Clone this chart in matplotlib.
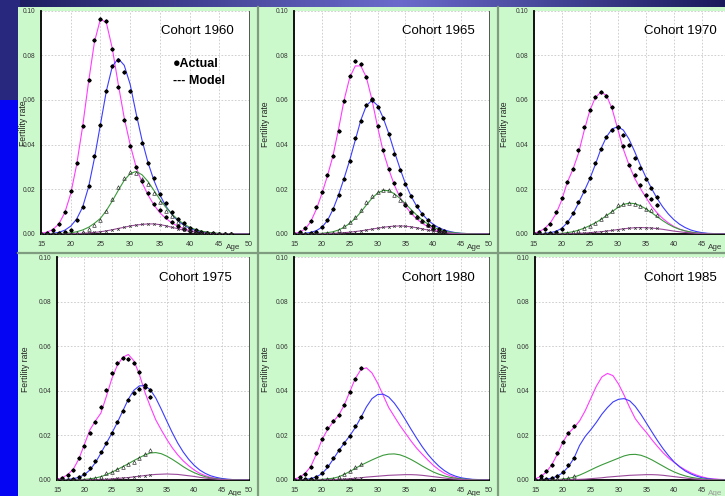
import numpy as np
import matplotlib
matplotlib.use("Agg")
import matplotlib.pyplot as plt
from matplotlib.patches import Rectangle

plt.rcParams['font.family'] = ['Liberation Sans', 'DejaVu Sans']

# ---------------------------------------------------------------------------
# Age-specific fertility rates by birth order (1st, 2nd, 3rd, 4th+)
# Model curves: ages 15..50; observed rates: ages 15..last observed age
# ---------------------------------------------------------------------------
model_ages = list(range(15, 51))
x_ticks = [15, 20, 25, 30, 35, 40, 45, 50]
y_ticks = [0.00, 0.02, 0.04, 0.06, 0.08, 0.10]
cohorts = ["1960", "1965", "1970", "1975", "1980", "1985"]

m1960_p1 = [0.0003, 0.0008, 0.002, 0.0045, 0.0095, 0.018, 0.031, 0.048, 0.068, 0.086,
            0.0962, 0.0945, 0.083, 0.067, 0.052, 0.040, 0.030, 0.023, 0.0175, 0.013,
            0.0095, 0.007, 0.005, 0.0035, 0.0024, 0.0016, 0.001, 0.0006, 0.0004, 0.0002,
            0.0001, 0.00005, 0.00003, 0.00002, 0.00001, 0.0]
m1960_p2 = [0.0, 0.0001, 0.0003, 0.0007, 0.0017, 0.0035, 0.0067, 0.012, 0.021, 0.034,
            0.049, 0.064, 0.075, 0.0785, 0.0755, 0.067, 0.054, 0.042, 0.032, 0.024,
            0.0175, 0.0125, 0.0088, 0.006, 0.004, 0.0026, 0.0016, 0.001, 0.0006, 0.0003,
            0.00015, 0.0001, 0.00005, 0.00003, 0.00001, 0.0]
m1960_p3 = [0.0, 0.0, 0.0001, 0.0002, 0.0003, 0.0005, 0.001, 0.0018, 0.003, 0.0048,
            0.007, 0.0105, 0.0148, 0.0195, 0.024, 0.027, 0.028, 0.0265, 0.0235, 0.0195,
            0.0155, 0.012, 0.009, 0.0065, 0.0045, 0.003, 0.002, 0.0013, 0.0008, 0.0005,
            0.0003, 0.0002, 0.0001, 0.00005, 0.00002, 0.0]
m1960_p4 = [0.0, 0.0, 0.0, 0.0, 0.00005, 0.0001, 0.0002, 0.0003, 0.0005, 0.0007,
            0.001, 0.0014, 0.0019, 0.0025, 0.003, 0.0036, 0.004, 0.0043, 0.0045, 0.0045,
            0.0042, 0.0037, 0.003, 0.0024, 0.0017, 0.0012, 0.0008, 0.0005, 0.0003, 0.0002,
            0.0001, 0.00005, 0.0, 0.0, 0.0, 0.0]

o1960_p1 = [0.0, 0.0004, 0.0019, 0.0043, 0.010, 0.0192, 0.0317, 0.0484, 0.0689, 0.0869,
            0.0961, 0.0952, 0.0829, 0.0657, 0.051, 0.0395, 0.030, 0.0235, 0.0185, 0.0135,
            0.0108, 0.0078, 0.0055, 0.0038, 0.0024, 0.0015, 0.0009, 0.0005, 0.0003, 0.0002,
            0.0001, 0.0001, 0.0]
o1960_p2 = [0.0, 0.0, 0.0001, 0.0003, 0.0008, 0.0019, 0.0064, 0.012, 0.0213, 0.0347,
            0.0489, 0.064, 0.075, 0.0778, 0.0727, 0.064, 0.052, 0.0407, 0.0317, 0.025,
            0.0179, 0.0137, 0.010, 0.0069, 0.0048, 0.0028, 0.0018, 0.001, 0.0006, 0.0003,
            0.0002, 0.0001, 0.0]
o1960_p3 = [0.0, 0.0, 0.0, 0.0, 0.0001, 0.0002, 0.0005, 0.001, 0.0024, 0.0042,
            0.0064, 0.0104, 0.0156, 0.0209, 0.0249, 0.0279, 0.0273, 0.0247, 0.0224, 0.0183,
            0.0142, 0.0104, 0.0079, 0.0052, 0.0037, 0.0022, 0.0014, 0.0008, 0.0005, 0.0003,
            0.0002, 0.0001, 0.0]
o1960_p4 = [0.0, 0.0, 0.0, 0.0, 0.0, 0.0001, 0.0002, 0.0003, 0.0004, 0.0007,
            0.001, 0.0013, 0.0018, 0.0024, 0.003, 0.0035, 0.0039, 0.0043, 0.0045, 0.0044,
            0.0041, 0.0036, 0.003, 0.0023, 0.0017, 0.0012, 0.0008, 0.0005, 0.0003, 0.0002,
            0.0001, 0.0, 0.0]

m1965_p1 = [0.0002, 0.0008, 0.0022, 0.0055, 0.011, 0.018, 0.026, 0.035, 0.047, 0.060,
            0.070, 0.0752, 0.0752, 0.070, 0.060, 0.048, 0.037, 0.029, 0.022, 0.0165,
            0.0125, 0.0093, 0.0068, 0.0048, 0.0033, 0.0022, 0.0014, 0.0009, 0.0005, 0.0003,
            0.00015, 0.0001, 0.00005, 0.00002, 0.00001, 0.0]
m1965_p2 = [0.0, 0.0001, 0.0003, 0.0007, 0.0015, 0.003, 0.006, 0.011, 0.0175, 0.025,
            0.033, 0.042, 0.051, 0.0575, 0.0598, 0.0575, 0.052, 0.045, 0.037, 0.0295,
            0.0225, 0.017, 0.0125, 0.009, 0.0063, 0.0043, 0.0028, 0.0018, 0.0011, 0.0006,
            0.0003, 0.0002, 0.0001, 0.00005, 0.00002, 0.0]
m1965_p3 = [0.0, 0.0, 0.0001, 0.0001, 0.0002, 0.0003, 0.0006, 0.001, 0.0018, 0.003,
            0.0048, 0.007, 0.0098, 0.013, 0.016, 0.0183, 0.0195, 0.0194, 0.018, 0.016,
            0.0135, 0.011, 0.0085, 0.0063, 0.0045, 0.0031, 0.0021, 0.0013, 0.0008, 0.0005,
            0.0003, 0.0002, 0.0001, 0.00005, 0.0, 0.0]
m1965_p4 = [0.0, 0.0, 0.0, 0.0, 0.00005, 0.0001, 0.0002, 0.0003, 0.0004, 0.0006,
            0.0008, 0.0011, 0.0014, 0.0018, 0.0022, 0.0026, 0.003, 0.0033, 0.0035, 0.0036,
            0.0035, 0.0032, 0.0028, 0.0023, 0.0018, 0.0013, 0.0009, 0.0006, 0.0004, 0.0002,
            0.0001, 0.00005, 0.0, 0.0, 0.0, 0.0]

o1965_p1 = [0.0, 0.0009, 0.0025, 0.006, 0.012, 0.0188, 0.0265, 0.0347, 0.0463, 0.0596,
            0.0705, 0.0772, 0.0759, 0.0702, 0.0605, 0.0481, 0.0377, 0.029, 0.0228, 0.018,
            0.0128, 0.0097, 0.0076, 0.0057, 0.004, 0.0024, 0.0015, 0.0008]
o1965_p2 = [0.0, 0.0, 0.0002, 0.0004, 0.001, 0.003, 0.0064, 0.0112, 0.0174, 0.0246,
            0.0328, 0.0429, 0.0507, 0.0577, 0.0598, 0.0568, 0.052, 0.0447, 0.0359, 0.0286,
            0.0225, 0.0168, 0.0124, 0.009, 0.0064, 0.0037, 0.0022, 0.0015]
o1965_p3 = [0.0, 0.0, 0.0, 0.0001, 0.0001, 0.0002, 0.0003, 0.0006, 0.0018, 0.0034,
            0.0054, 0.0076, 0.0106, 0.0142, 0.0168, 0.0186, 0.0197, 0.0195, 0.0176, 0.0153,
            0.0139, 0.010, 0.0077, 0.006, 0.004, 0.0025, 0.0015, 0.0008]
o1965_p4 = [0.0, 0.0, 0.0, 0.0, 0.0, 0.0001, 0.0001, 0.0002, 0.0004, 0.0005,
            0.0008, 0.0011, 0.0014, 0.0018, 0.0022, 0.0026, 0.003, 0.0033, 0.0035, 0.0035,
            0.0034, 0.0031, 0.0028, 0.0024, 0.0019, 0.0014, 0.001, 0.0007]

m1970_p1 = [0.0003, 0.001, 0.0025, 0.005, 0.009, 0.015, 0.023, 0.0288, 0.036, 0.046,
            0.055, 0.061, 0.0635, 0.062, 0.056, 0.047, 0.038, 0.031, 0.025, 0.0205,
            0.0165, 0.0125, 0.0095, 0.007, 0.005, 0.0034, 0.0022, 0.0014, 0.0008, 0.0005,
            0.0003, 0.0002, 0.0001, 0.00005, 0.00002, 0.0]
m1970_p2 = [0.0, 0.0001, 0.0003, 0.0006, 0.0012, 0.0025, 0.005, 0.0088, 0.0138, 0.019,
            0.0245, 0.031, 0.038, 0.0435, 0.047, 0.048, 0.0465, 0.0425, 0.037, 0.031,
            0.0255, 0.0205, 0.016, 0.0122, 0.009, 0.0064, 0.0044, 0.0029, 0.0018, 0.0011,
            0.0006, 0.0003, 0.0002, 0.0001, 0.00005, 0.0]
m1970_p3 = [0.0, 0.0, 0.0001, 0.0001, 0.0002, 0.0003, 0.0006, 0.001, 0.0017, 0.0026,
            0.0037, 0.005, 0.0065, 0.0082, 0.010, 0.0118, 0.0132, 0.0138, 0.0136, 0.0127,
            0.0113, 0.0096, 0.0078, 0.006, 0.0044, 0.0031, 0.0021, 0.0014, 0.0009, 0.0005,
            0.0003, 0.0002, 0.0001, 0.00005, 0.0, 0.0]
m1970_p4 = [0.0, 0.0, 0.0, 0.0, 0.00005, 0.0001, 0.0001, 0.0002, 0.0003, 0.0004,
            0.0006, 0.0008, 0.001, 0.0013, 0.0016, 0.002, 0.0023, 0.0026, 0.0028, 0.0029,
            0.0028, 0.0027, 0.0024, 0.0021, 0.0017, 0.0013, 0.001, 0.0007, 0.0005, 0.0003,
            0.0002, 0.0001, 0.00005, 0.0, 0.0, 0.0]

o1970_p1 = [0.0, 0.0009, 0.0022, 0.0045, 0.0097, 0.0161, 0.0231, 0.029, 0.0376, 0.048,
            0.0556, 0.0615, 0.0636, 0.0618, 0.0566, 0.048, 0.0395, 0.031, 0.0265, 0.022,
            0.0175, 0.0158, 0.0128]
o1970_p2 = [0.0, 0.0, 0.0002, 0.0005, 0.001, 0.0021, 0.0052, 0.0092, 0.0142, 0.0194,
            0.0249, 0.0319, 0.0382, 0.0432, 0.0466, 0.0477, 0.0444, 0.0398, 0.0338, 0.0295,
            0.0245, 0.0206, 0.0165]
o1970_p3 = [0.0, 0.0, 0.0, 0.0001, 0.0001, 0.0002, 0.0004, 0.0008, 0.0015, 0.0025,
            0.0037, 0.005, 0.0066, 0.0085, 0.0105, 0.0128, 0.0136, 0.0137, 0.0136, 0.0127,
            0.011, 0.0106, 0.0085]
o1970_p4 = [0.0, 0.0, 0.0, 0.0, 0.0, 0.0001, 0.0001, 0.0002, 0.0003, 0.0004,
            0.0006, 0.0008, 0.001, 0.0013, 0.0016, 0.002, 0.0023, 0.0026, 0.0027, 0.0028,
            0.0028, 0.0028, 0.0027]

m1975_p1 = [0.0003, 0.001, 0.0025, 0.005, 0.0095, 0.016, 0.0225, 0.0265, 0.030, 0.0375,
            0.0455, 0.0515, 0.055, 0.0563, 0.0535, 0.0475, 0.0395, 0.033, 0.027, 0.0225,
            0.0183, 0.0145, 0.0113, 0.0086, 0.0064, 0.0045, 0.003, 0.002, 0.0012, 0.0007,
            0.0004, 0.0002, 0.0001, 0.00005, 0.00002, 0.0]
m1975_p2 = [0.0, 0.0001, 0.0003, 0.0006, 0.0012, 0.0024, 0.0045, 0.0078, 0.012, 0.0165,
            0.021, 0.0258, 0.031, 0.0362, 0.0402, 0.0422, 0.0423, 0.0405, 0.0368, 0.0318,
            0.0265, 0.0213, 0.0166, 0.0126, 0.0093, 0.0066, 0.0045, 0.003, 0.0019, 0.0012,
            0.0007, 0.0004, 0.0002, 0.0001, 0.00005, 0.0]
m1975_p3 = [0.0, 0.0, 0.0001, 0.0001, 0.0002, 0.0003, 0.0005, 0.0009, 0.0015, 0.0024,
            0.0035, 0.0047, 0.006, 0.0073, 0.0087, 0.010, 0.0112, 0.0121, 0.0123, 0.0118,
            0.0107, 0.0093, 0.0077, 0.006, 0.0045, 0.0033, 0.0023, 0.0015, 0.0009, 0.0006,
            0.0003, 0.0002, 0.0001, 0.00005, 0.0, 0.0]
m1975_p4 = [0.0, 0.0, 0.0, 0.0, 0.0, 0.00005, 0.0001, 0.0001, 0.0002, 0.0003,
            0.0005, 0.0007, 0.0009, 0.0011, 0.0014, 0.0017, 0.002, 0.0023, 0.0025, 0.0026,
            0.0027, 0.0026, 0.0025, 0.0022, 0.0019, 0.0016, 0.0012, 0.0009, 0.0006, 0.0004,
            0.0002, 0.0001, 0.00005, 0.0, 0.0, 0.0]

o1975_p1 = [0.0, 0.0009, 0.0022, 0.0045, 0.0097, 0.0154, 0.0209, 0.026, 0.0328, 0.0402,
            0.0478, 0.0526, 0.0545, 0.0542, 0.0523, 0.0486, 0.0425, 0.0405]
o1975_p2 = [0.0, 0.0, 0.0002, 0.0005, 0.0012, 0.0025, 0.0052, 0.0085, 0.0124, 0.0164,
            0.0212, 0.026, 0.031, 0.0358, 0.0392, 0.0407, 0.0415, 0.0374]
o1975_p3 = [0.0, 0.0, 0.0, 0.0001, 0.0001, 0.0002, 0.0004, 0.0007, 0.0012, 0.003,
            0.0036, 0.0048, 0.0058, 0.007, 0.0082, 0.0098, 0.0116, 0.0136]
o1975_p4 = [0.0, 0.0, 0.0, 0.0, 0.0, 0.0001, 0.0001, 0.0002, 0.0003, 0.0004,
            0.0005, 0.0007, 0.0009, 0.0011, 0.0014, 0.0016, 0.0019, 0.0022]

m1980_p1 = [0.0003, 0.0012, 0.003, 0.006, 0.0115, 0.018, 0.0225, 0.026, 0.029, 0.0335,
            0.0395, 0.0455, 0.0495, 0.0503, 0.048, 0.0435, 0.038, 0.0325, 0.0285, 0.0245,
            0.021, 0.0175, 0.0143, 0.0116, 0.009, 0.0066, 0.0046, 0.003, 0.0019, 0.0011,
            0.0006, 0.0003, 0.0002, 0.0001, 0.00005, 0.0]
m1980_p2 = [0.0, 0.0001, 0.0003, 0.0006, 0.0014, 0.0028, 0.0055, 0.0092, 0.013, 0.0165,
            0.0198, 0.0235, 0.028, 0.0328, 0.0365, 0.0383, 0.0385, 0.0372, 0.0345, 0.031,
            0.027, 0.0228, 0.0188, 0.015, 0.0116, 0.0087, 0.0062, 0.0042, 0.0027, 0.0017,
            0.001, 0.0006, 0.0003, 0.0002, 0.0001, 0.0]
m1980_p3 = [0.0, 0.0, 0.0, 0.0001, 0.0002, 0.0003, 0.0005, 0.0008, 0.0014, 0.0025,
            0.0038, 0.0052, 0.0066, 0.0078, 0.009, 0.0101, 0.0111, 0.0116, 0.0117, 0.0113,
            0.0104, 0.0092, 0.0078, 0.0063, 0.0049, 0.0036, 0.0026, 0.0018, 0.0012, 0.0008,
            0.0005, 0.0003, 0.0002, 0.0001, 0.0, 0.0]
m1980_p4 = [0.0, 0.0, 0.0, 0.0, 0.0, 0.0001, 0.0001, 0.0002, 0.0003, 0.0004,
            0.0006, 0.0008, 0.001, 0.0013, 0.0015, 0.0017, 0.0019, 0.0021, 0.0022, 0.0023,
            0.0024, 0.0024, 0.0023, 0.0021, 0.0018, 0.0015, 0.0012, 0.0009, 0.0006, 0.0004,
            0.0002, 0.0001, 0.00005, 0.0, 0.0, 0.0]

o1980_p1 = [0.0, 0.0012, 0.0028, 0.006, 0.0121, 0.0186, 0.0235, 0.0264, 0.029, 0.0335,
            0.0395, 0.0455, 0.0504]
o1980_p2 = [0.0, 0.0002, 0.0004, 0.0005, 0.0015, 0.003, 0.0061, 0.0097, 0.0134, 0.0165,
            0.0197, 0.024, 0.0282]
o1980_p3 = [0.0, 0.0, 0.0, 0.0001, 0.0001, 0.0002, 0.0004, 0.0006, 0.0012, 0.0027,
            0.0039, 0.0057, 0.0072]
o1980_p4 = [0.0, 0.0, 0.0, 0.0, 0.0, 0.0001, 0.0001, 0.0002, 0.0003, 0.0004,
            0.0006, 0.0007, 0.0009]

m1985_p1 = [0.0005, 0.0015, 0.0035, 0.0068, 0.0115, 0.017, 0.021, 0.0235, 0.0265, 0.031,
            0.0365, 0.042, 0.0462, 0.0478, 0.0468, 0.043, 0.038, 0.0325, 0.0275, 0.0242,
            0.0213, 0.018, 0.015, 0.0122, 0.0098, 0.0079, 0.006, 0.0045, 0.0032, 0.0022,
            0.0014, 0.0008, 0.0005, 0.0003, 0.0002, 0.0001]
m1985_p2 = [0.0001, 0.0002, 0.0004, 0.0008, 0.0017, 0.0033, 0.006, 0.0098, 0.0155, 0.0195,
            0.0225, 0.0258, 0.0295, 0.0325, 0.035, 0.0362, 0.0365, 0.0355, 0.033, 0.0295,
            0.0255, 0.0215, 0.0176, 0.014, 0.0108, 0.008, 0.0058, 0.004, 0.0027, 0.0017,
            0.001, 0.0006, 0.0003, 0.0002, 0.0001, 0.0]
m1985_p3 = [0.0, 0.0, 0.0, 0.0001, 0.0002, 0.0004, 0.0007, 0.0013, 0.0022, 0.0033,
            0.0045, 0.0057, 0.0068, 0.0078, 0.0088, 0.0098, 0.0108, 0.0114, 0.0115, 0.0111,
            0.0102, 0.009, 0.0076, 0.0062, 0.0048, 0.0036, 0.0026, 0.0018, 0.0012, 0.0008,
            0.0005, 0.0003, 0.0002, 0.0001, 0.0, 0.0]
m1985_p4 = [0.0, 0.0, 0.0, 0.0, 0.0, 0.0001, 0.0001, 0.0002, 0.0003, 0.0004,
            0.0006, 0.0008, 0.001, 0.0013, 0.0015, 0.0017, 0.0019, 0.0021, 0.0022, 0.0023,
            0.0024, 0.0024, 0.0023, 0.0021, 0.0018, 0.0015, 0.0012, 0.0009, 0.0006, 0.0004,
            0.0002, 0.0001, 0.00005, 0.0, 0.0, 0.0]

o1985_p1 = [0.0, 0.0019, 0.0042, 0.0067, 0.0122, 0.017, 0.0212, 0.0241]
o1985_p2 = [0.0, 0.0004, 0.0004, 0.0009, 0.0019, 0.0036, 0.0066, 0.010]
o1985_p3 = [0.0, 0.0, 0.0001, 0.0002, 0.0003, 0.0005, 0.0008, 0.0016]
o1985_p4 = [0.0, 0.0, 0.0, 0.0, 0.0, 0.0001, 0.0001, 0.0002]

model_sets = {
    "1960": [m1960_p1, m1960_p2, m1960_p3, m1960_p4],
    "1965": [m1965_p1, m1965_p2, m1965_p3, m1965_p4],
    "1970": [m1970_p1, m1970_p2, m1970_p3, m1970_p4],
    "1975": [m1975_p1, m1975_p2, m1975_p3, m1975_p4],
    "1980": [m1980_p1, m1980_p2, m1980_p3, m1980_p4],
    "1985": [m1985_p1, m1985_p2, m1985_p3, m1985_p4],
}
obs_sets = {
    "1960": [o1960_p1, o1960_p2, o1960_p3, o1960_p4],
    "1965": [o1965_p1, o1965_p2, o1965_p3, o1965_p4],
    "1970": [o1970_p1, o1970_p2, o1970_p3, o1970_p4],
    "1975": [o1975_p1, o1975_p2, o1975_p3, o1975_p4],
    "1980": [o1980_p1, o1980_p2, o1980_p3, o1980_p4],
    "1985": [o1985_p1, o1985_p2, o1985_p3, o1985_p4],
}

line_colors = ["#ff3cff", "#3c3cff", "#3a9a3a", "#9a4a9a"]

# ---------------------------------------------------------------------------
W, H = 725, 496
fig = plt.figure(figsize=(W / 100, H / 100), dpi=100)


def fbox(x0, y0, x1, y1):
    return [x0 / W, 1 - y1 / H, (x1 - x0) / W, (y1 - y0) / H]


def fx(x):
    return x / W


def fy(y):
    return 1 - y / H


# slide background
bg = fig.add_axes([0, 0, 1, 1], zorder=-10)
bg.set_axis_off()
img = np.zeros((H, W, 3))
img[:, :] = [0.14, 0.14, 0.45]
t = np.linspace(0, 1, W)
top_col = np.where(t < 0.55, t / 0.55, (1 - t) / 0.45)
for k, (lo, hi) in enumerate([(0.10, 0.42), (0.10, 0.42), (0.36, 0.80)]):
    img[:8, :, k] = lo + (hi - lo) * top_col[None, :]
img[100:, :, :] = [0.02, 0.02, 0.96]
img[:100, :20, :] = [0.16, 0.16, 0.50]
bg.imshow(img, extent=[0, 1, 0, 1], aspect='auto', interpolation='bilinear')

# green panel and separators
bg.add_patch(Rectangle((fx(18), 0), 1 - fx(18), fy(7), transform=bg.transAxes,
                       facecolor="#cbf9cb", edgecolor="none"))
for xs in (258, 498):
    bg.plot([fx(xs), fx(xs)], [0, fy(7)], color="#809c80", lw=1.6,
            transform=bg.transAxes)
bg.plot([fx(18), 1], [fy(253), fy(253)], color="#809c80", lw=1.6,
        transform=bg.transAxes)
bg.set_xlim(0, 1)
bg.set_ylim(0, 1)

boxes = [(41, 10.5, 249, 234), (294, 10.5, 489, 234), (533.5, 10.5, 730, 234),
         (57, 257, 249, 480), (294, 257, 489, 480), (535, 257, 730, 480)]
title_pos = [(234, 31), (475, 31), (717, 31), (232, 278), (475, 278), (717, 278)]
ylab_pos = [(24, 123), (265, 124), (505, 124), (25, 369), (265, 369), (505, 369)]

for i, c in enumerate(cohorts):
    ax = fig.add_axes(fbox(*boxes[i]))
    ax.set_facecolor("white")
    ax.set_xlim(15, 50)
    ax.set_ylim(0, 0.10)
    ax.set_xticks(x_ticks)
    ax.set_yticks(y_ticks)
    ax.set_yticklabels([f"{v:.2f}" for v in y_ticks], fontsize=4.7, color="#333333")
    ax.set_xticklabels([str(v) for v in x_ticks], fontsize=5.2, color="#333333")
    ax.tick_params(axis="both", length=0)
    ax.tick_params(axis="y", pad=4)
    ax.tick_params(axis="x", pad=5)
    ax.grid(True, color="#c8c8c8", linestyle=(0, (2, 2)), linewidth=0.6)
    ax.set_axisbelow(True)
    for s in ("left", "bottom"):
        ax.spines[s].set_color("black")
        ax.spines[s].set_linewidth(1.3)
    ax.spines["right"].set_color("#555555")
    ax.spines["right"].set_linewidth(0.7)
    ax.spines["top"].set_visible(False)

    for k in range(4):
        ax.plot(model_ages, model_sets[c][k], color=line_colors[k], lw=0.8, zorder=3)

    obs = obs_sets[c]
    oa = list(range(15, 15 + len(obs[0])))
    for k in (0, 1):
        ax.plot(oa, obs[k], ls="none", marker="o", ms=1.9, color="black", zorder=4)
        ax.plot(oa, obs[k], ls="none", marker="+", ms=3.0, mew=0.6,
                color="black", zorder=4)
    ax.plot(oa, obs[2], ls="none", marker="^", ms=2.6, mfc="none", mec="#222222",
            mew=0.45, zorder=4)
    ax.plot(oa, obs[3], ls="none", marker="x", ms=1.8, mew=0.5, color="#333333",
            zorder=4)

    age_col = "#9a9a9a" if i == 5 else "#333333"
    ax.annotate("Age", xy=(47.4, 0), xycoords=("data", "axes fraction"),
                xytext=(0, -9.6), textcoords="offset points", ha="center",
                va="center", fontsize=5.8, color=age_col)

    tx, ty = title_pos[i]
    fig.text(fx(tx), fy(ty), f"Cohort {c}", ha="right", va="center",
             fontsize=9.5, color="black")
    lx, ly = ylab_pos[i]
    fig.text(fx(lx), fy(ly), "Fertility rate", rotation=90, ha="center",
             va="center", fontsize=6.2, color="#222222")

# legend note in the first panel
fig.text(fx(173), fy(64), "\u25cfActual", ha="left", va="center",
         fontsize=9, fontweight="bold", color="black")
fig.text(fx(173), fy(81), "--- Model", ha="left", va="center",
         fontsize=9, fontweight="bold", color="black")

fig.savefig("out.png", dpi=100)
